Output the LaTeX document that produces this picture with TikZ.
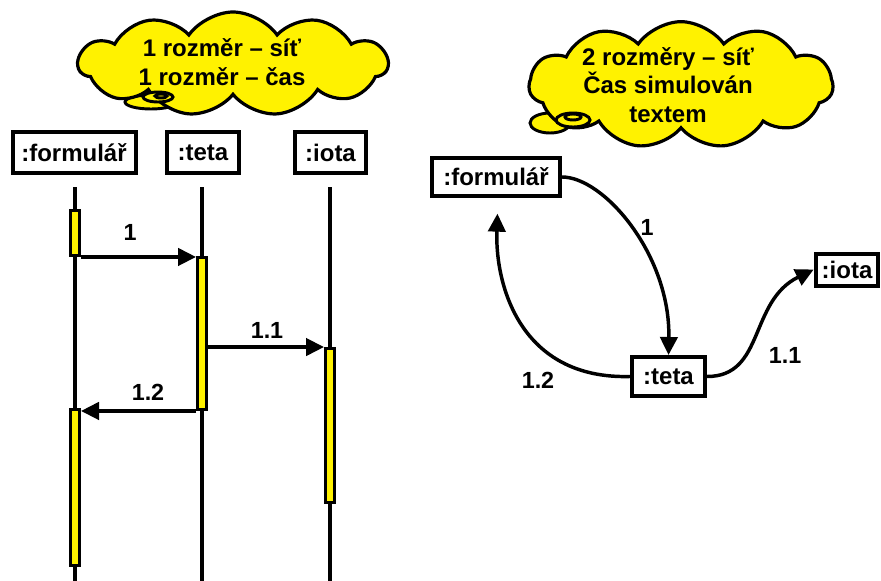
\documentclass[tikz,border=0pt]{standalone}
\usepackage{fontspec}
\setmainfont{Liberation Sans}
\usetikzlibrary{arrows.meta,shapes.symbols,calc}
\begin{document}
\begin{tikzpicture}[x=0.75pt,y=-0.75pt,
  lbl/.style={font=\fontsize{17.5}{20}\selectfont\bfseries, inner sep=0},
  obj/.style={draw, line width=3pt, fill=white, font=\fontsize{18}{21}\selectfont\bfseries, inner sep=0},
  act/.style={draw, line width=2.2pt, fill=yellow, minimum width=6.8pt, inner sep=0},
  life/.style={line width=3pt},
  msg/.style={line width=2.6pt, -{Triangle[length=13.5pt,width=13pt]}},
  cloudbox/.style={cloud, cloud puffs=11, cloud puff arc=110, draw, line width=2.4pt, fill=yellow, inner sep=0},
  cloudtxt/.style={align=center, font=\fontsize{18}{21.5}\selectfont\bfseries, inner sep=0},
  tail/.style={draw, line width=2.2pt, fill=yellow}]
\useasboundingbox (0,0) rectangle (881,581);

% ---- clouds ----
\draw[tail] (151,102) ellipse [x radius=26, y radius=7];
\node[cloudbox, minimum width=232pt, minimum height=78pt] (C1) at (233,64) {};
\draw[tail] (158,97) ellipse [x radius=15, y radius=5];
\draw[tail] (161,96) ellipse [x radius=6, y radius=2];
\node[cloudtxt] (C1t) at (222,62) {1 rozměr – síť\\1 rozměr – čas};

\draw[tail] (550,123) ellipse [x radius=20, y radius=10];
\node[cloudbox, minimum width=228pt, minimum height=95pt] (C2) at (681,85) {};
\draw[tail] (573,120) ellipse [x radius=17, y radius=7];
\draw[tail] (573,117) ellipse [x radius=8, y radius=3];
\node[cloudtxt] (C2t) at (668,85) {2 rozměry – síť\\Čas simulován\\textem};

% ---- sequence diagram ----
\coordinate (L1t) at (75,187);  \coordinate (L1b) at (75,585);
\coordinate (L2t) at (202,187); \coordinate (L2b) at (202,585);
\coordinate (L3t) at (330,187); \coordinate (L3b) at (330,585);
\draw[life] (L1t) -- (L1b);
\draw[life] (L2t) -- (L2b);
\draw[life] (L3t) -- (L3b);

\node[obj, minimum width=92.25pt, minimum height=30.75pt] (F) at (74,152.5) {:formulář};
\node[obj, minimum width=54pt, minimum height=30.75pt] (T) at (203,152.5) {:teta};
\node[obj, minimum width=53.25pt, minimum height=30.75pt] (I) at (330.5,152.5) {:iota};

\node[act, minimum height=33.75pt] (A1) at (75,233) {};
\node[act, minimum height=114pt] (A2) at (202,333.5) {};
\node[act, minimum height=115.5pt] (A3) at (330,425.5) {};
\node[act, minimum height=117pt] (A4) at (75,487.5) {};

\draw[msg] (A1.south east) -- (A1.south east -| A2.west);
\draw[msg] (A3.north west -| A2.east) -- (A3.north west);
\draw[msg] (A2.south west) -- (A2.south west -| A4.east);
\node[lbl] (m1) at (130,232) {1};
\node[lbl] (m11) at (267,330) {1.1};
\node[lbl] (m12) at (148,392) {1.2};

% ---- collaboration diagram ----
\node[obj, minimum width=96pt, minimum height=28pt] (F2) at (496,177) {:formulář};
\node[obj, minimum width=54.75pt, minimum height=29.25pt] (T2) at (668.5,376.5) {:teta};
\node[obj, minimum width=47pt, minimum height=24pt] (I2) at (847,269.5) {:iota};

\draw[msg] (F2.east) .. controls +(42,0) and +(2,-100) .. (T2.north);
\draw[msg, shorten >=12pt] (T2.west) .. controls +(-110,3) and +(-3,87) .. ($(F2.south west)+(68,0)$);
\draw[msg] (T2.east) .. controls +(58,0) and +(-65,32) .. (I2.west);
\node[lbl] (n1) at (647,227) {1};
\node[lbl] (n12) at (538,380) {1.2};
\node[lbl] (n11) at (785,355) {1.1};
\end{tikzpicture}
\end{document}
